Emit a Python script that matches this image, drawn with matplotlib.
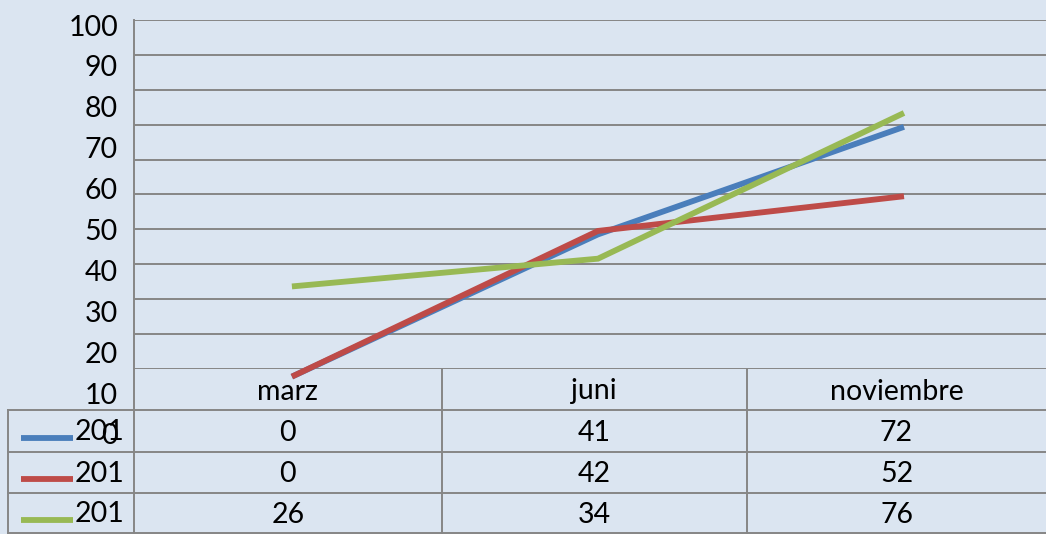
import matplotlib
matplotlib.use('Agg')
import matplotlib.pyplot as plt
import numpy as np

# ---- data ----
categories = ['marz', 'juni', 'noviembre']
series_names = ['201', '201', '201']
blue_vals = [0, 41, 72]
red_vals = [0, 42, 52]
green_vals = [26, 34, 76]
y_tick_values = [0, 10, 20, 30, 40, 50, 60, 70, 80, 90, 100]

series = [blue_vals, red_vals, green_vals]
colors = ['#4A7EBB', '#BE4B48', '#98B954']

W, H = 1046, 534
FONT = 'Lato'
FS = 20.5
LINE_W = 4.2
plt.rcParams['font.family'] = [FONT, 'DejaVu Sans']

fig = plt.figure(figsize=(W / 100, H / 100), dpi=100)
bg = '#DBE5F1'
grid_c = '#868686'
fig.patch.set_facecolor(bg)


def fx(px):
    return px / W


def fy(py):
    return 1 - py / H


# main plot area
left, right, top, bot = 134, 1046, 20, 369
ax = fig.add_axes([fx(left), fy(bot), (right - left) / W, (bot - top) / H])
ax.set_facecolor('none')
y0, y1 = 2.2, 102.8
ax.set_ylim(y0, y1)
ax.set_xlim(-0.516, 2.464)
ax.set_yticks(np.linspace(y0, y1, 11))
ax.yaxis.grid(True, color=grid_c, lw=1.4)
ax.tick_params(length=0, labelleft=False, labelbottom=False)
for s in ['top', 'right', 'bottom']:
    ax.spines[s].set_visible(False)
ax.spines['left'].set_color(grid_c)
ax.spines['left'].set_linewidth(1.4)

x = np.arange(len(categories))
for vals, c in zip(series, colors):
    ax.plot(x, vals, color=c, lw=LINE_W, clip_on=False, solid_capstyle='butt',
            solid_joinstyle='miter', zorder=3)

# y tick labels axis (offset scale as in reference)
lab_top, lab_bot = 25, 434
lax = fig.add_axes([fx(left), fy(lab_bot), 0.001, (lab_bot - lab_top) / H])
lax.set_facecolor('none')
lax.set_ylim(0, 100)
lax.set_yticks(y_tick_values)
lax.set_yticklabels([str(v) for v in y_tick_values], fontsize=FS)
lax.tick_params(length=0, pad=11.5, labelbottom=False)
lax.set_xticks([])
for s in lax.spines.values():
    s.set_visible(False)

# data table (pixel coordinates overlay)
tax = fig.add_axes([0, 0, 1, 1])
tax.set_xlim(0, W)
tax.set_ylim(H, 0)
tax.axis('off')
tax.patch.set_visible(False)

col_x = [8, 134, 441.5, 747, 1046]
row_y = [369, 410, 452, 493, 533]
lw = 1.4
# horizontal lines
for yy in row_y[1:]:
    tax.plot([col_x[0], col_x[-1]], [yy, yy], color=grid_c, lw=lw, zorder=1)
# vertical lines
tax.plot([col_x[0], col_x[0]], [row_y[1], row_y[-1]], color=grid_c, lw=lw)
for xx in col_x[1:4]:
    tax.plot([xx, xx], [row_y[0], row_y[-1]], color=grid_c, lw=lw)

# header
for i, cat in enumerate(categories):
    cx = (col_x[i + 1] + col_x[i + 2]) / 2
    tax.text(cx, (row_y[0] + row_y[1]) / 2 + 2, cat, ha='center', va='center', fontsize=FS)

# rows
for r, (name, vals, c) in enumerate(zip(series_names, series, colors)):
    cy = (row_y[r + 1] + row_y[r + 2]) / 2
    tax.plot([21, 73], [cy + 6.5, cy + 6.5], color=c, lw=LINE_W, solid_capstyle='butt')
    tax.text(75, cy + 1.5, name, ha='left', va='center', fontsize=FS)
    for i, v in enumerate(vals):
        cx = (col_x[i + 1] + col_x[i + 2]) / 2
        tax.text(cx, cy + 2, str(v), ha='center', va='center', fontsize=FS)

fig.savefig('out.png', dpi=100, facecolor=bg)
